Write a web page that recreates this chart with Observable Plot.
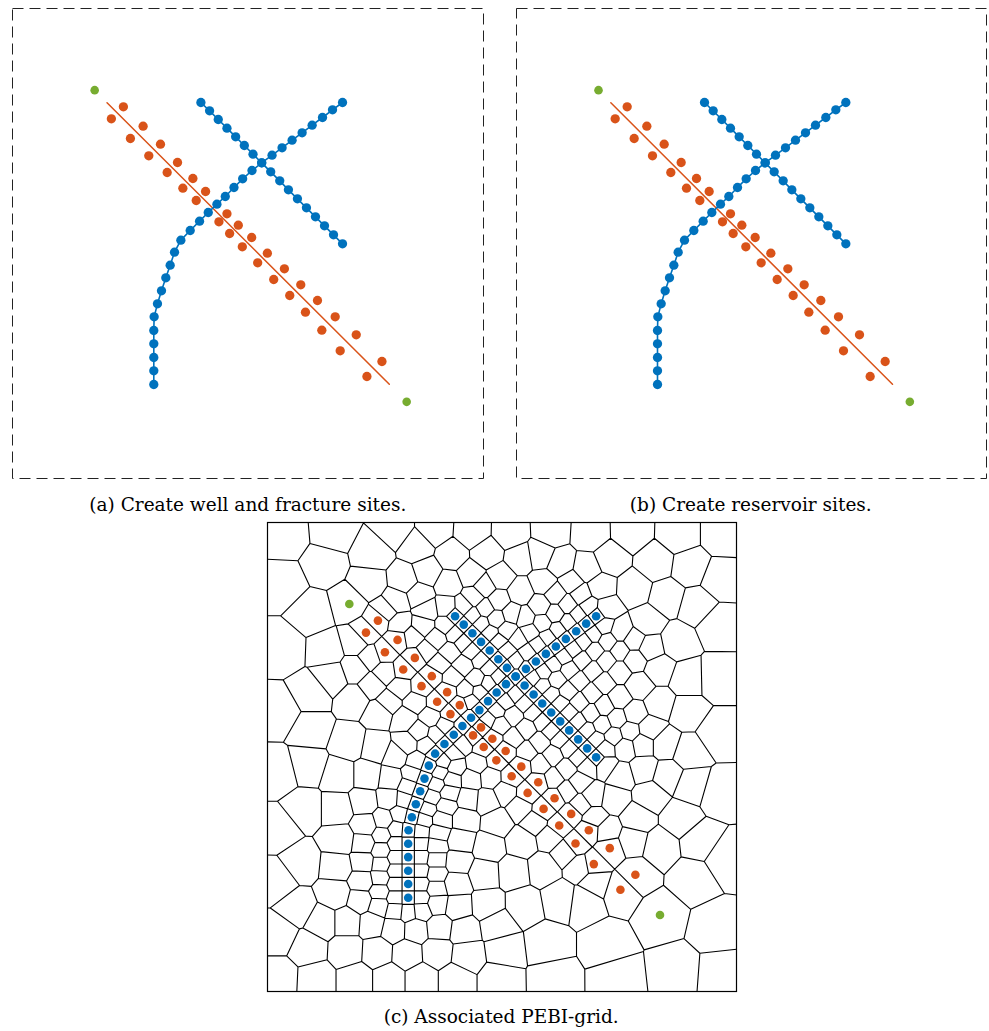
<!DOCTYPE html>
<html><head><meta charset="utf-8">
<script src="https://cdn.jsdelivr.net/npm/d3@7"></script>
<script src="https://cdn.jsdelivr.net/npm/@observablehq/plot@0.6"></script>
<style>
html,body{margin:0;padding:0;background:#fff;}
body{width:989px;height:1031px;position:relative;overflow:hidden;}
.panel{position:absolute;}
.cap{position:absolute;transform:translate(-50%,-50%);font-family:"DejaVu Serif",serif;font-size:18.5px;line-height:1;white-space:nowrap;color:#000;}
</style></head><body>
<div id="pa" class="panel" style="left:10.3px;top:6.3px"></div>
<div id="pb" class="panel" style="left:513.7px;top:6.3px"></div>
<div id="pc" class="panel" style="left:264.7px;top:520.3px"></div>
<div class="cap" style="left:247.8px;top:505px">(a) Create well and fracture sites.</div>
<div class="cap" style="left:750.8px;top:505px">(b) Create reservoir sites.</div>
<div class="cap" style="left:501.2px;top:1016.7px">(c) Associated PEBI-grid.</div>
<script>
// domain coordinates (u to the right, v downward), box = [0,1410] x [0,1410]
const domainSize = [0, 1410];

const well1Sites = [[564,282],[590,307],[616,333],[642,359],[668,385],[694,411],[720,437],[746,463],[773,490],[800,517],[826,544],[853,571],[880,598],[907,625],[934,652],[961,679],[988,706]];
const well2Sites = [[988,282],[958,304],[928,327],[897,350],[867,373],[837,395],[807,418],[777,440],[746,463],[717,486],[689,511],[663,537],[637,564],[612,587],[586,612],[560,638],[532,666],[504,695],[485,731],[472,770],[459,808],[446,847],[434,886],[424,925],[423,966],[423,1006],[423,1047],[423,1087],[423,1128]];
const fractureTrace = [[283,283],[1128,1127]];
const fractureSitesNE = [[332,295],[391,353],[443,407],[494,462],[540,510],[578,549],[642,616],[676,650],[716,687],[763,734],[814,781],[863,829],[913,876],[966,925],[1029,979],[1106,1059]];
const fractureSitesSW = [[296,331],[353,390],[408,442],[463,492],[510,539],[550,576],[618,640],[650,675],[688,715],[734,763],[782,813],[830,861],[877,911],[926,965],[981,1027],[1061,1104]];
const tipSites = [[246,245],[1180,1180]];

// reservoir sites
const resBoundary = [[54,43],[197,31],[382,23],[502,23],[615,30],[730,33],[852,28],[970,35],[1092,32],[1235,36],[1368,36],
 [47,183],[47,378],[40,568],[35,753],[35,923],[30,1078],[35,1238],[35,1368],
 [145,1373],[267,1373],[365,1373],[462,1373],[565,1373],[695,1373],[860,1370],[1048,1369],[1228,1349],[1363,1359],
 [1360,170],[1352,308],[1350,468],[1350,633],[1355,813],[1373,1009],[1348,1219]];
const resTopLeft = [[172,125],[317,93],[450,73],[412,173],[307,183],[137,273],[182,383],[387,238],[457,218],[480,265],[480,150],[545,185],[555,100]];
const resTopWedge = [[590,254],[616,280],[642,306],[668,332],[694,358],[718,386],[746,418],[784,392],[814,369],[844,347],[874,324],[905,301],[935,278],[965,255],[538,256],[1018,260],
 [621,225],[654,258],[687,291],[720,324],[754,350],[788,330],[826,302],[864,274],[902,246],[940,218],
 [652,194],[693,235],[734,276],[775,287],[821,252],[867,217],[913,182],
 [612,158],[700,165],[760,210],[830,180],[880,125],[960,140],
 [660,95],[760,110],[820,100]];
const resRightWedge = [[798,467],
 [829,448],[859,425],[889,403],[919,380],[950,357],[980,334],[1010,312],
 [826,491],[852,518],[879,545],[906,572],[933,599],[960,626],[987,653],[1014,680],[1016,730],
 [870,472],[908,443],[946,414],[984,386],[1022,357],[1060,328],[904,506],[938,540],[972,574],[1006,608],[1040,642],[1074,676],
 [936,476],[977,445],[1018,415],[1059,385],[1100,355],[974,514],[1012,552],[1050,590],[1088,628],[1126,666],
 [1010,482],[1056,447],[1102,412],[1148,377],[1056,528],[1102,574],[1148,620],[1194,666],
 [1115,490],[1175,440],[1175,545],[1260,470],[1260,570],[1265,690]];
const resTopRight = [[1000,195],[1030,110],[1100,200],[1165,120],[1270,135],[1200,225],[1140,300],[1290,250],[1230,360]];
const resRightLower = [[1200,760],[1275,790],[1130,740],[1060,760],[1040,830],[1110,890],[1150,820],[1095,955],[1240,890],[1300,960],[1178,974],[1278,1069]];
const resBand = [[694,463],[668,437],[642,411],[616,385],[590,359],[564,333],[538,308],
 [664,484],[638,510],[612,537],
 [628,470],[588,430],[548,390],[508,350],[468,310],
 [597,505],[557,465],[517,425],[477,385],[437,345],[397,305],[357,265],
 [746,515],[774,543],[800,570],[827,597],[854,624],[881,651],[908,678],[935,705],[962,732],
 [714,538],[688,564],[662,591],
 [738,580],[778,620],[818,660],[858,700],[898,740],[938,780],[978,820],
 [700,608],[740,648],[780,688],[820,728],[860,768],[900,808],[940,848],[980,888],[1020,928]];
const resLeft = [[265,360],[310,405],[355,450],[400,495],[445,540],[490,585],
 [265,440],[315,490],[365,540],[415,590],[458,628],
 [535,611],[507,639],[479,668],[450,718],[437,757],[424,795],[411,834],[398,878],[387,922],[386,966],[386,1006],[386,1047],[386,1087],[386,1128],
 [195,465],[132,516],[132,621],[122,731],[112,861],[262,531],[247,661],[217,761],[212,861],[337,571],[327,676],[302,761],[292,841],[297,911],[387,701],[372,771],[367,831],[350,895],[420,665]];
const resBottomLeft = [[345,940],[343,985],[342,1027],[340,1068],[338,1110],[336,1152],
 [292,965],[290,1020],[287,1078],[282,1135],
 [220,955],[212,1035],[205,1115],
 [102,1024],[92,1159],[122,1279],[165,1200],
 [384,1164],[423,1168],[462,1164],
 [240,1200],[315,1205],[380,1220],[445,1222],[515,1215],
 [240,1285],[330,1290],[420,1295],[510,1290]];
const resBottomWedge = [[585,665],[557,693],[529,718],[519,752],[507,787],[494,825],[481,862],[470,894],[461,928],[460,966],[460,1006],[460,1047],[460,1087],[460,1128],
 [565,735],[553,772],[545,812],[535,852],[522,892],[512,932],[505,972],[505,1014],[505,1057],[505,1100],[508,1145],
 [612,770],[603,830],[590,892],[578,955],[570,1020],[565,1085],[570,1155],
 [630,725],[670,765],[715,810],[760,855],[805,900],[850,945],[895,990],[940,1035],[985,1080],
 [660,835],[690,900],[665,975],[765,960],[650,1055],[740,1050],[830,1040],
 [660,1150],[770,1149],[880,1129],[953,1139],
 [590,1225],[690,1210],[600,1300],[710,1285],[840,1269],[1018,1269]];

const BLUE = "#0072BD", ORANGE = "#D95319", GREEN = "#77AC30";
const toObj = (a) => a.map(([u, v]) => ({u, v}));

const wellDots = toObj([...well1Sites, ...well2Sites]);
const fracDots = toObj([...fractureSitesNE, ...fractureSitesSW]);
const tipDots = toObj(tipSites);

function sitesPanel(w, h) {
  return Plot.plot({
    width: w, height: h, margin: 2,
    x: {domain: domainSize, axis: null},
    y: {domain: domainSize, axis: null, reverse: true},
    style: {background: "transparent"},
    marks: [
      Plot.frame({stroke: "#222", strokeWidth: 1, strokeDasharray: "11,6"}),
      Plot.line(toObj(fractureTrace), {x: "u", y: "v", stroke: ORANGE, strokeWidth: 1.5}),
      Plot.line(toObj(well1Sites), {x: "u", y: "v", stroke: BLUE, strokeWidth: 1.6}),
      Plot.line(toObj(well2Sites), {x: "u", y: "v", stroke: BLUE, strokeWidth: 1.6}),
      Plot.dot(fracDots, {x: "u", y: "v", r: 4.65, fill: ORANGE}),
      Plot.dot(wellDots, {x: "u", y: "v", r: 4.65, fill: BLUE}),
      Plot.dot(tipDots, {x: "u", y: "v", r: 4.3, fill: GREEN})
    ]
  });
}

document.getElementById("pa").append(sitesPanel(475, 474));
document.getElementById("pb").append(sitesPanel(474, 474));

// all generating points of the PEBI grid
const seen = new Set();
const allSites = [];
for (const arr of [well1Sites, well2Sites, fractureSitesNE, fractureSitesSW, tipSites,
  resBoundary, resTopLeft, resTopWedge, resRightWedge, resTopRight, resRightLower, resBand, resLeft, resBottomLeft, resBottomWedge]) {
  for (const [u, v] of arr) {
    const k = u + "," + v;
    if (!seen.has(k)) { seen.add(k); allSites.push({u, v}); }
  }
}

const pebi = Plot.plot({
  width: 473, height: 473, margin: 2,
  x: {domain: domainSize, axis: null},
  y: {domain: domainSize, axis: null, reverse: true},
  style: {background: "transparent"},
  marks: [
    Plot.voronoiMesh(allSites, {x: "u", y: "v", stroke: "#000", strokeOpacity: 1, strokeWidth: 1.1}),
    Plot.frame({stroke: "#000", strokeWidth: 1.2}),
    Plot.dot(fracDots, {x: "u", y: "v", r: 4.3, fill: ORANGE}),
    Plot.dot(wellDots, {x: "u", y: "v", r: 4.3, fill: BLUE}),
    Plot.dot(tipDots, {x: "u", y: "v", r: 4.3, fill: GREEN})
  ]
});
document.getElementById("pc").append(pebi);
</script>
</body></html>
